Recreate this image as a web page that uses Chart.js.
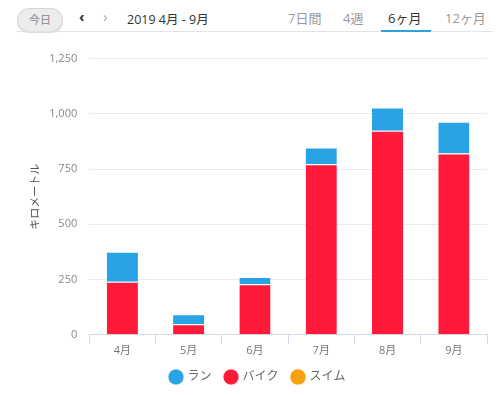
<!DOCTYPE html>
<html>
<head>
<meta charset="utf-8">
<script src="https://cdn.jsdelivr.net/npm/chart.js@4/dist/chart.umd.min.js"></script>
<style>
  body { margin: 0; width: 500px; height: 395px; background: #fff; overflow: hidden;
         font-family: 'Open Sans', 'Noto Sans CJK JP', sans-serif; }
  #head { position: absolute; left: 0; top: 0; width: 500px; height: 40px; }
  #head span { position: absolute; white-space: nowrap; }
  .today { left: 17px; top: 8px; width: 44px; height: 22px; line-height: 22px; text-align: center;
           background: #ececec; border: 1px solid #d6d6d6; border-radius: 12px; font-size: 11px; color: #888;
           box-shadow: 0 1px 1px rgba(0,0,0,0.15); }
  .tab { top: 8px; font-size: 13px; color: #999; }
  #line { position: absolute; left: 17px; top: 31px; width: 476px; height: 1px; background: #e3e3e3; }
  #under { position: absolute; left: 381px; top: 30px; width: 50px; height: 2px; background: #2aa3de; }
  #wrap { position: absolute; left: 0; top: 40px; width: 500px; height: 355px; }
</style>
</head>
<body>
<div id="head">
  <span class="today">今日</span>
  <span style="left:79px;top:6px;font-size:15px;font-weight:bold;color:#333">&#8249;</span>
  <span style="left:103px;top:6px;font-size:15px;color:#aaa">&#8250;</span>
  <span style="left:127px;top:9px;font-size:12.5px;color:#333">2019 4月 - 9月</span>
  <span class="tab" style="left:288px">7日間</span>
  <span class="tab" style="left:343px">4週</span>
  <span class="tab" style="left:388px;color:#333">6ヶ月</span>
  <span class="tab" style="left:445px">12ヶ月</span>
  <div id="line"></div>
  <div id="under"></div>
</div>
<div id="wrap"><canvas id="chart"></canvas></div>
<script>
// données
const months = ['4月', '5月', '6月', '7月', '8月', '9月'];
const bike = [240, 48, 229, 772, 924, 820];
const run = [136, 45, 33, 76, 105, 144];
const swim = [0, 0, 0, 0, 0, 0];
const legendOrder = ['ラン', 'バイク', 'スイム'];

const font = "'Open Sans', 'Noto Sans CJK JP', sans-serif";
const seam = {top: 1, left: 0, right: 0, bottom: 0};

const ctx = document.getElementById('chart').getContext('2d');
const myChart = new Chart(ctx, {
    type: 'bar',
    data: {
        labels: months,
        datasets: [
            {label: 'バイク', data: bike, backgroundColor: '#ff1a3a', borderColor: '#ffffff', borderWidth: seam, borderSkipped: false},
            {label: 'ラン', data: run, backgroundColor: '#2aa3e6', borderColor: '#ffffff', borderWidth: seam, borderSkipped: false},
            {label: 'スイム', data: swim, backgroundColor: '#f7a10e', borderWidth: 0}
        ]
    },
    options: {
        responsive: true,
        maintainAspectRatio: false,
        animation: false,
        layout: {
            padding: {left: 29, right: 13, top: 6.5, bottom: 2}
        },
        datasets: {
            bar: {categoryPercentage: 1, barPercentage: 0.47}
        },
        scales: {
            x: {
                stacked: true,
                offset: true,
                border: {display: true, color: '#d5dbe6'},
                grid: {display: true, drawOnChartArea: false, offset: true, tickLength: 9, color: '#d5dbe6'},
                ticks: {color: '#777', font: {family: font, size: 11}, padding: 0}
            },
            y: {
                stacked: true,
                min: 0,
                max: 1250,
                border: {display: false},
                grid: {color: '#ebebeb', drawTicks: false},
                ticks: {stepSize: 250, color: '#888', font: {family: font, size: 11}, padding: 12},
                title: {display: true, text: 'キロメートル', color: '#555', font: {family: font, size: 11}, padding: {top: 0, bottom: -5}}
            }
        },
        plugins: {
            tooltip: {enabled: false},
            legend: {
                position: 'bottom',
                labels: {
                    usePointStyle: true,
                    pointStyle: 'circle',
                    boxWidth: 11,
                    boxHeight: 11,
                    padding: 14,
                    color: '#666',
                    font: {family: font, size: 12},
                    sort: (a, b) => legendOrder.indexOf(a.text) - legendOrder.indexOf(b.text)
                }
            }
        }
    }
});
</script>
</body>
</html>
